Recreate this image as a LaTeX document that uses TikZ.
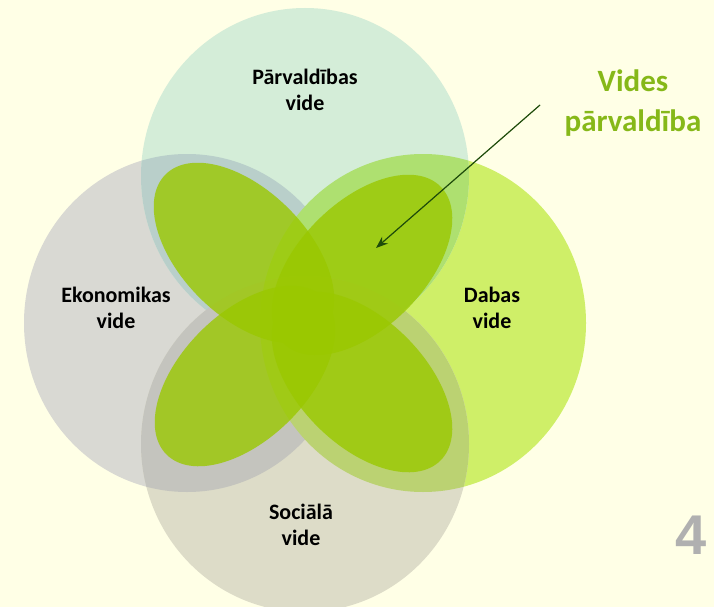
\documentclass[tikz,border=0pt]{standalone}
\usepackage{fontspec}
\setmainfont{Carlito}
\newfontfamily\digitfont{Liberation Sans}
\usetikzlibrary{arrows.meta}
\definecolor{bgc}{HTML}{FFFFE6}
\definecolor{cT}{HTML}{D4EDD8}
\definecolor{cL}{HTML}{D9D9D3}
\definecolor{cR}{HTML}{CFEF68}
\definecolor{cB}{HTML}{DDDCC8}
\definecolor{ovTL}{HTML}{B9CFCA}
\definecolor{ovTR}{HTML}{AEE070}
\definecolor{ovBL}{HTML}{C4C4BE}
\definecolor{ovBR}{HTML}{BBD272}
\definecolor{petalc}{HTML}{9AC800}
\definecolor{titlec}{HTML}{86B818}
\definecolor{numc}{HTML}{B0B0B0}
\definecolor{arrowc}{HTML}{1E4B0A}
\begin{document}
\begin{tikzpicture}[x=1pt,y=-1pt,
  lbl/.style={font=\bfseries\fontsize{22}{26}\selectfont, align=center, text=black, inner sep=0pt},
  petal/.style={fill=petalc, fill opacity=0.8}]
\useasboundingbox (0,0) rectangle (714,607);
\fill[bgc] (0,0) rectangle (714,607);
% base circles
\fill[cL] (187,323) ellipse [x radius=163pt, y radius=169pt];
\fill[cR] (423,323) ellipse [x radius=163pt, y radius=169pt];
\fill[cB] (305,444) ellipse [x radius=164pt, y radius=168pt];
\fill[cT] (305,176) ellipse [x radius=164pt, y radius=168pt];
% pairwise overlaps
\begin{scope}
  \clip (305,176) ellipse [x radius=164pt, y radius=168pt];
  \fill[ovTL] (187,323) ellipse [x radius=163pt, y radius=169pt];
  \fill[ovTR] (423,323) ellipse [x radius=163pt, y radius=169pt];
\end{scope}
\begin{scope}
  \clip (305,444) ellipse [x radius=164pt, y radius=168pt];
  \fill[ovBL] (187,323) ellipse [x radius=163pt, y radius=169pt];
  \fill[ovBR] (423,323) ellipse [x radius=163pt, y radius=169pt];
\end{scope}
% petals
\fill[petal, rotate around={-45:(244,253)}] (244,253) ellipse [x radius=111pt, y radius=63pt];
\fill[petal, rotate around={45:(362,265)}] (362,265) ellipse [x radius=111pt, y radius=63pt];
\fill[petal, rotate around={45:(245,376)}] (245,376) ellipse [x radius=111pt, y radius=63pt];
\fill[petal, rotate around={-45:(362,382)}] (362,382) ellipse [x radius=111pt, y radius=63pt];
% labels
\node[lbl] (parv) at (305,90) {Pārvaldības\\vide};
\node[lbl] (ekon) at (116,308) {Ekonomikas\\vide};
\node[lbl] (dabas) at (492,308) {Dabas\\vide};
\node[lbl] (soc) at (301,525) {Sociālā\\vide};
\node[font=\bfseries\fontsize{31}{40}\selectfont, text=titlec, align=center, inner sep=0pt] (title) at (633,103) {Vides\\pārvaldība};
\node[font=\digitfont\bfseries\fontsize{56}{60}\selectfont, text=numc, inner sep=0pt] (num) at (691,535) {4};
% arrow
\coordinate (arrS) at (540,105);
\coordinate (arrE) at (376,248);
\draw[-{Stealth[length=12pt,width=9pt]}, draw=arrowc, fill=arrowc, line width=1.2pt] (arrS) -- (arrE);
\end{tikzpicture}
\end{document}
